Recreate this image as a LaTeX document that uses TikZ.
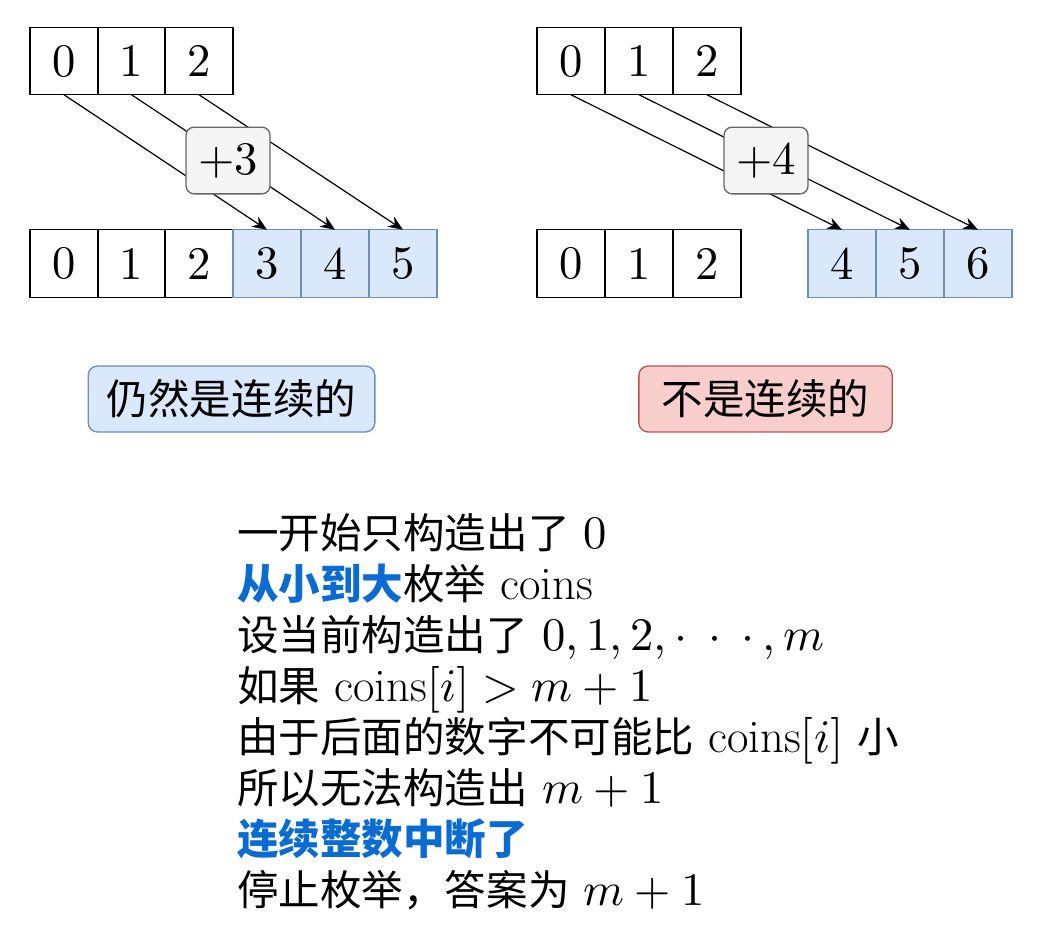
\documentclass[tikz,border=0pt]{standalone}
\usepackage{fontspec}
\usepackage{unicode-math}
\setmathfont{Latin Modern Math}
\newfontfamily\cjk[Scale=0.89]{Noto Sans CJK SC}
\usetikzlibrary{arrows.meta}
\definecolor{bluefill}{HTML}{DAE8FC}
\definecolor{bluedraw}{HTML}{6C8EBF}
\definecolor{redfill}{HTML}{F8CECC}
\definecolor{reddraw}{HTML}{B85450}
\definecolor{opfill}{HTML}{F5F5F5}
\definecolor{opdraw}{HTML}{666666}
\definecolor{hl}{HTML}{0A6CD2}
\newcommand{\mydots}{\mathinner{\cdotp\mkern4mu\cdotp\mkern4mu\cdotp}}
\tikzset{
  bigfont/.style={font=\fontsize{35}{42}\selectfont},
  cell/.style={bigfont, draw, line width=1pt, minimum width=50.8pt, minimum height=50.6pt, inner sep=0pt, outer sep=0pt},
  bluecell/.style={cell, fill=bluefill, draw=bluedraw},
  opbox/.style={bigfont, draw=opdraw, fill=opfill, rounded corners=6pt, minimum width=63pt, minimum height=50pt, line width=1pt, inner sep=0pt},
  shiftarrow/.style={-{Stealth[length=11pt,width=9pt]}, line width=0.9pt},
  tag/.style={font=\fontsize{35}{42}\selectfont\cjk, rounded corners=7pt, minimum height=49.5pt, line width=1pt, inner sep=0pt},
  txt/.style={bigfont, anchor=base west, inner sep=0pt}
}
\begin{document}
\begin{tikzpicture}[x=0.75pt,y=-0.75pt]
\useasboundingbox (0,0) rectangle (1037,946);
% left part
\node[cell] (a0) at (64,61) {$0$};
\node[cell] (a1) at (131.5,61) {$1$};
\node[cell] (a2) at (199,61) {$2$};
\node[cell] (b0) at (64,263.5) {$0$};
\node[cell] (b1) at (131.5,263.5) {$1$};
\node[cell] (b2) at (199,263.5) {$2$};
\node[bluecell] (b3) at (267,263.5) {$3$};
\node[bluecell] (b4) at (335,263.5) {$4$};
\node[bluecell] (b5) at (403,263.5) {$5$};
\draw[shiftarrow] (a0.south) -- (b3.north);
\draw[shiftarrow] (a1.south) -- (b4.north);
\draw[shiftarrow] (a2.south) -- (b5.north);
\node[opbox] (p3) at (228,160.5) {$+3$};
% right part
\node[cell] (c0) at (571,61) {$0$};
\node[cell] (c1) at (639,61) {$1$};
\node[cell] (c2) at (707,61) {$2$};
\node[cell] (d0) at (571,263.5) {$0$};
\node[cell] (d1) at (639,263.5) {$1$};
\node[cell] (d2) at (707,263.5) {$2$};
\node[bluecell] (e4) at (842,263.5) {$4$};
\node[bluecell] (e5) at (910,263.5) {$5$};
\node[bluecell] (e6) at (978,263.5) {$6$};
\draw[shiftarrow] (c0.south) -- (e4.north);
\draw[shiftarrow] (c1.south) -- (e5.north);
\draw[shiftarrow] (c2.south) -- (e6.north);
\node[opbox] (p4) at (766,160.5) {$+4$};
% tags
\node[tag, fill=bluefill, draw=bluedraw, minimum width=215pt] (yes) at (231.5,399) {仍然是连续的};
\node[tag, fill=redfill, draw=reddraw, minimum width=190pt] (no) at (765.5,399) {不是连续的};
% text
\node[txt] (l1) at (237,548) {{\cjk 一开始只构造出了} $0$};
\node[txt] (l2) at (237,599) {{\color{hl}\cjk\bfseries 从小到大}{\cjk 枚举} coins};
\node[txt] (l3) at (237,650) {{\cjk 设当前构造出了} $0,1,2,\mydots,m$};
\node[txt] (l4) at (237,701) {{\cjk 如果} $\mathrm{coins}[i]>m+1$};
\node[txt] (l5) at (237,752) {{\cjk 由于后面的数字不可能比} $\mathrm{coins}[i]$ {\cjk 小}};
\node[txt] (l6) at (237,803) {{\cjk 所以无法构造出} $m+1$};
\node[txt] (l7) at (237,854) {{\color{hl}\cjk\bfseries 连续整数中断了}};
\node[txt] (l8) at (237,905) {{\cjk 停止枚举，答案为} $m+1$};
\end{tikzpicture}
\end{document}
